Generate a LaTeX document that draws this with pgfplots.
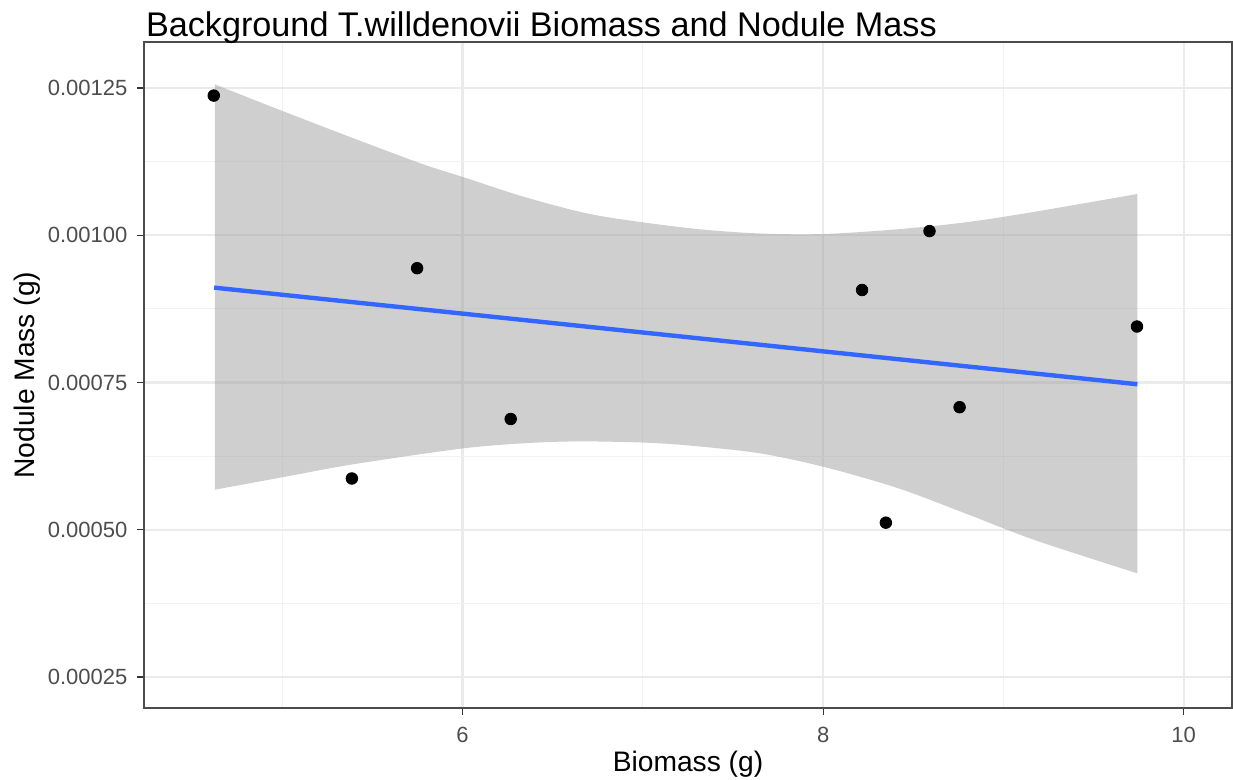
\documentclass[border=0pt]{standalone}
\usepackage{pgfplots}
\pgfplotsset{compat=1.18}
\usepgfplotslibrary{fillbetween}
\usepackage{fontspec}
\setmainfont{Liberation Sans}
\definecolor{smoothblue}{HTML}{3366FF}
\definecolor{grey60}{HTML}{999999}
\definecolor{ticktext}{HTML}{4D4D4D}
\definecolor{gridmaj}{HTML}{EBEBEB}
\definecolor{gridmin}{HTML}{F2F2F2}
\begin{document}
\begin{tikzpicture}
\begin{axis}[
  scale only axis, width=544pt, height=333pt,
  xmin=4.233, xmax=10.268, ymin=0.0001974, ymax=0.001328,
  xtick={6,8,10}, minor xtick={5,7,9},
  ytick={0.00025,0.0005,0.00075,0.001,0.00125},
  minor ytick={0.000375,0.000625,0.000875,0.001125},
  scaled y ticks=false,
  yticklabel style={xshift=-1.5pt, /pgf/number format/.cd,fixed,fixed zerofill,precision=5,assume math mode=true},
  xticklabel style={yshift=-2.5pt, /pgf/number format/assume math mode=true},
  grid=both,
  major grid style={draw=gridmaj, line width=1.1pt},
  minor grid style={draw=gridmin, line width=0.6pt},
  tick pos=left, tick align=outside,
  major tick length=3.3pt, minor tick length=0pt,
  tick style={draw=black!80, line width=0.6pt},
  axis line style={draw=black!70, line width=0.7pt},
  ticklabel style={font=\fontsize{11}{13}\selectfont, text=ticktext},
  title={Background T.willdenovii Biomass and Nodule Mass},
  title style={at={(axis description cs:0.0015,1.0135)}, anchor=base west, yshift=-8pt, inner sep=0pt, font=\fontsize{17.1}{20}\selectfont},
  xlabel={Biomass (g)},
  xlabel style={at={(axis description cs:0.5,-0.0961)}, anchor=base, inner sep=0pt, font=\fontsize{14.1}{17}\selectfont},
  ylabel={Nodule Mass (g)},
  ylabel style={at={(axis description cs:-0.1002,0.5)}, anchor=base, inner sep=0pt, font=\fontsize{14.1}{17}\selectfont},
]
% observations
\addplot[only marks, mark=*, mark size=2.9pt, black] coordinates {
  (4.620,0.001237) (5.386,0.000587) (5.748,0.000944) (6.267,0.000688)
  (8.216,0.000907) (8.348,0.000512) (8.590,0.001007) (8.757,0.000708)
  (9.741,0.000845)};
% 95% confidence band of the linear fit
\addplot[draw=none, smooth, name path=upper] coordinates {
  (4.626,0.001256) (5.0,0.001211) (5.391,0.001165) (5.776,0.001121)
  (6.0,0.001099) (6.354,0.001064) (6.740,0.001034) (7.256,0.001012)
  (7.643,0.001003) (8.0,0.001002) (8.411,0.001010) (8.795,0.001022)
  (9.178,0.001040) (9.743,0.001070)};
\addplot[draw=none, smooth, name path=lower] coordinates {
  (4.626,0.000568) (5.0,0.000589) (5.391,0.000611) (6.0,0.000638)
  (6.354,0.000647) (6.644,0.000650) (7.0,0.000648) (7.256,0.000643)
  (7.643,0.000630) (8.0,0.000607) (8.411,0.000571) (8.795,0.000527)
  (9.178,0.000482) (9.743,0.000426)};
\addplot[fill=grey60, fill opacity=0.47, draw=none] fill between[of=upper and lower];
% fitted line
\addplot[smoothblue, line width=2.2pt] coordinates {(4.622,0.000911) (9.743,0.000747)};
\coordinate (sw) at (rel axis cs:0,0);
\coordinate (ne) at (rel axis cs:1,1);
\end{axis}
\pgfresetboundingbox
\path ([xshift=-72pt,yshift=-36pt]sw) rectangle ([xshift=0.5pt,yshift=21pt]ne);
\end{tikzpicture}
\end{document}
